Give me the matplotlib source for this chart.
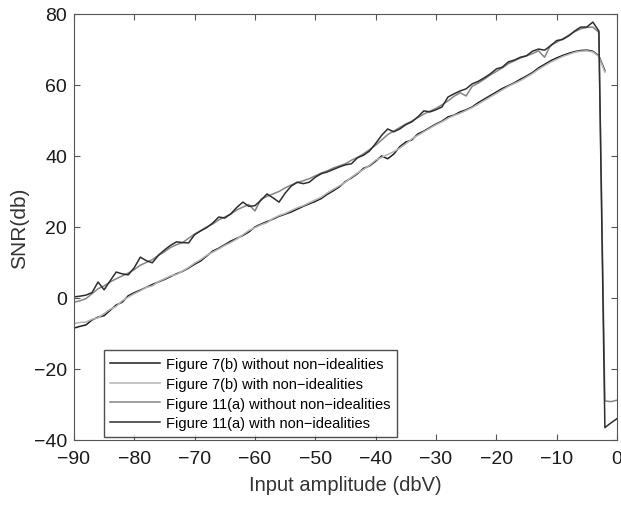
import numpy as np
import matplotlib
matplotlib.use("Agg")
import matplotlib.pyplot as plt

plt.rcParams['font.family'] = ['Liberation Sans', 'DejaVu Sans']

# input amplitude grid (dBV)
x_upper = list(range(-90, 1))    # Figure 11(a) curves, -90..0
x_lower = list(range(-90, -1))   # Figure 7(b) curves, -90..-2

# Figure 11(a) without non-idealities
snr_11a_ideal = [
    -1.2, -0.8, -0.2, 1.2, 2.6, 3.4, 4.5, 5.4, 6.2, 7.0,
    8.0, 9.2, 10.0, 10.8, 12.0, 13.0, 14.2, 15.0, 15.6, 16.8,
    18.0, 18.9, 20.0, 20.8, 22.0, 22.8, 23.6, 24.8, 25.6, 26.3,
    24.5, 27.8, 28.6, 29.3, 30.0, 31.0, 31.8, 32.5, 33.0, 33.6,
    34.4, 35.2, 35.8, 36.6, 37.2, 37.8, 38.8, 39.6, 40.6, 41.8,
    43.0, 44.5, 46.0, 47.0, 48.0, 49.0, 49.8, 50.8, 51.8, 52.6,
    53.4, 54.4, 55.5, 56.8, 57.8, 56.9, 59.6, 60.5, 61.6, 62.8,
    63.8, 64.8, 66.0, 66.8, 67.6, 68.2, 68.8, 69.6, 67.8, 71.2,
    72.0, 73.0, 74.0, 75.0, 75.8, 76.2, 76.3, 74.8, -29.0, -29.2, -28.8,
]
# Figure 11(a) with non-idealities
snr_11a_real = [
    0.3, 0.5, 0.8, 1.5, 4.5, 2.3, 4.8, 7.3, 6.8, 6.5,
    8.5, 11.5, 10.5, 9.9, 12.0, 13.5, 14.8, 15.8, 15.6, 15.5,
    17.8, 18.9, 19.8, 21.1, 22.8, 22.5, 23.7, 25.5, 27.0, 25.8,
    26.0, 27.5, 29.3, 28.2, 27.0, 29.5, 31.5, 32.6, 32.2, 32.6,
    34.0, 35.0, 35.5, 36.2, 36.9, 37.5, 37.8, 39.5, 40.2, 41.4,
    43.5, 45.8, 47.6, 46.8, 47.6, 48.8, 49.6, 51.0, 52.7, 52.4,
    53.0, 53.8, 56.6, 57.5, 58.3, 58.9, 60.3, 61.0, 62.0, 63.1,
    64.5, 65.0, 66.5, 67.0, 67.8, 68.2, 69.5, 70.1, 69.8, 71.0,
    72.5, 72.8, 73.8, 75.2, 76.3, 76.3, 77.7, 75.2, -36.5, -35.2, -34.0,
]
# Figure 7(b) without non-idealities
snr_7b_ideal = [
    -8.5, -8.0, -7.6, -6.2, -5.4, -5.0, -3.5, -2.0, -1.2, 0.6,
    1.5, 2.2, 3.0, 3.8, 4.5, 5.2, 6.0, 6.8, 7.5, 8.4,
    9.5, 10.4, 11.8, 13.2, 14.0, 15.0, 16.0, 16.8, 17.6, 18.6,
    20.0, 20.8, 21.5, 22.2, 23.0, 23.6, 24.2, 25.0, 25.8, 26.5,
    27.2, 28.0, 29.2, 30.2, 31.3, 32.8, 33.8, 35.0, 36.5, 37.2,
    38.5, 40.0, 39.2, 40.5, 42.6, 43.9, 44.5, 46.2, 47.0, 48.0,
    49.0, 49.8, 51.0, 51.5, 52.4, 53.0, 53.8, 55.0, 56.0, 57.0,
    58.0, 59.0, 59.8, 60.6, 61.6, 62.5, 63.5, 64.8, 65.8, 66.8,
    67.6, 68.3, 68.9, 69.4, 69.7, 69.8, 69.5, 68.2, 64.0,
]
# Figure 7(b) with non-idealities
snr_7b_real = [
    -7.2, -6.9, -6.8, -6.0, -5.6, -4.4, -3.2, -2.4, -0.8, 0.2,
    1.2, 2.0, 3.0, 3.4, 4.6, 5.4, 6.2, 6.6, 7.6, 8.6,
    9.8, 10.8, 12.0, 12.9, 13.8, 14.8, 15.6, 16.6, 17.8, 19.0,
    19.8, 20.6, 21.2, 22.4, 23.2, 23.8, 24.6, 25.4, 26.0, 26.8,
    27.6, 28.4, 29.6, 30.6, 31.6, 32.6, 34.0, 35.2, 36.2, 37.4,
    38.8, 39.6, 40.4, 41.2, 42.2, 43.4, 44.8, 45.8, 46.8, 47.8,
    48.8, 49.6, 50.6, 51.4, 52.0, 52.8, 53.6, 54.6, 55.6, 56.6,
    57.6, 58.6, 59.6, 60.4, 61.2, 62.2, 63.2, 64.4, 65.4, 66.4,
    67.2, 68.0, 68.6, 69.2, 69.5, 69.6, 69.3, 68.0, 63.6,
]

labels = [
    'Figure 7(b) without non\u2212idealities',
    'Figure 7(b) with non\u2212idealities',
    'Figure 11(a) without non\u2212idealities',
    'Figure 11(a) with non\u2212idealities',
]

fig = plt.figure(figsize=(6.21, 5.06), dpi=100)
ax = fig.add_axes([0.119, 0.1285, 0.8745, 0.842])

ax.plot(x_lower, snr_7b_ideal, color='#1e1e1e', lw=1.1, label=labels[0])
ax.plot(x_lower, snr_7b_real, color='#b4b4b4', lw=1.1, label=labels[1])
ax.plot(x_upper, snr_11a_ideal, color='#858585', lw=1.1, label=labels[2])
ax.plot(x_upper, snr_11a_real, color='#2e2e2e', lw=1.1, label=labels[3])

ax.set_xlim(-90, 0)
ax.set_ylim(-40, 80)
ax.set_xticks(np.arange(-90, 1, 10))
ax.set_yticks(np.arange(-40, 81, 20))
ax.tick_params(direction='in', top=True, right=True, labelsize=14,
               length=4, color='#555555', labelcolor='#1a1a1a')
ax.tick_params(axis='x', pad=7)
ax.tick_params(axis='y', pad=5)
for s in ax.spines.values():
    s.set_color('#555555')
    s.set_linewidth(0.8)

ax.set_xlabel('Input amplitude (dbV)', fontsize=14.5, color='#333333', labelpad=6)
ax.set_ylabel('SNR(db)', fontsize=15, color='#333333', labelpad=3)

leg = ax.legend(loc='lower left', bbox_to_anchor=(0.055, 0.007), fontsize=10.5,
                frameon=True, fancybox=False, edgecolor='#222222',
                handlelength=3.4, handletextpad=0.4, borderpad=0.45,
                labelspacing=0.4, borderaxespad=0)
leg.get_frame().set_linewidth(1.0)

fig.savefig('out.png', dpi=100)
